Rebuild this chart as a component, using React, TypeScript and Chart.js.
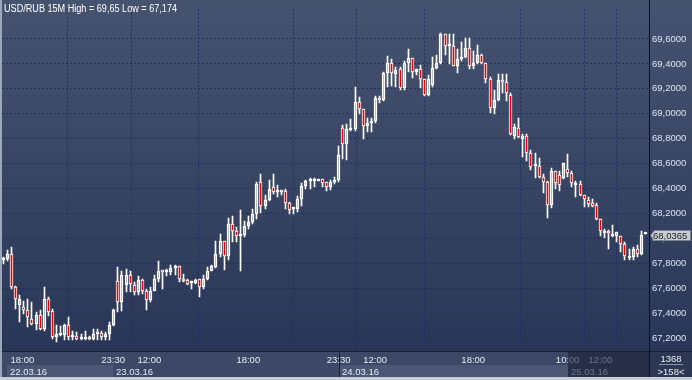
import React, { useEffect, useRef } from 'react';
import { Chart, registerables } from 'chart.js';
Chart.register(...registerables);

const opens = [
  67.83, 67.84, 67.88, 67.61, 67.47, 67.45, 67.43, 67.36, 67.315, 67.39,
  67.28, 67.52, 67.42, 67.21, 67.23, 67.23, 67.31, 67.21, 67.22, 67.195,
  67.20, 67.215, 67.195, 67.235, 67.245, 67.21, 67.235, 67.31, 67.66, 67.49,
  67.63, 67.71, 67.63, 67.57, 67.668, 67.58, 67.505, 67.58, 67.673, 67.75,
  67.73, 67.73, 67.765, 67.777, 67.68, 67.665, 67.647, 67.647, 67.673, 67.613,
  67.673, 67.744, 67.77, 67.877, 67.978, 67.863, 68.114, 68.064, 68.025, 68.03,
  68.10, 68.134, 68.194, 68.45, 68.26, 68.31, 68.41, 68.375, 68.376, 68.38,
  68.285, 68.235, 68.235, 68.317, 68.42, 68.46, 68.462, 68.46, 68.478, 68.45,
  68.41, 68.45, 68.468, 68.886, 68.761, 68.87, 68.879, 69.092, 69.035, 68.905,
  68.93, 68.94, 69.13, 69.113, 69.327, 69.405, 69.32, 69.36, 69.21, 69.41,
  69.45, 69.334, 69.355, 69.277, 69.152, 69.23, 69.368, 69.407, 69.64, 69.543,
  69.543, 69.386, 69.44, 69.457, 69.524, 69.38, 69.41, 69.47, 69.405, 69.282,
  69.048, 69.113, 69.274, 69.256, 69.152, 68.82, 68.884, 68.80, 68.826, 68.69,
  68.578, 68.58, 68.493, 68.457, 68.267, 68.545, 68.509, 68.488, 68.559, 68.525,
  68.43, 68.434, 68.35, 68.31, 68.285, 68.27, 68.155, 68.046, 68.05, 68.02,
  68.02, 68.02, 67.96, 67.848, 67.856, 67.92, 67.874, 68.0365,
];
const highs = [
  67.85, 67.91, 67.93, 67.62, 67.55, 67.50, 67.52, 67.49, 67.41, 67.43,
  67.61, 67.53, 67.44, 67.31, 67.30, 67.32, 67.37, 67.26, 67.25, 67.24,
  67.26, 67.22, 67.28, 67.28, 67.26, 67.25, 67.335, 67.44, 67.77, 67.74,
  67.76, 67.74, 67.65, 67.70, 67.68, 67.60, 67.61, 67.71, 67.82, 67.75,
  67.76, 67.79, 67.79, 67.78, 67.72, 67.68, 67.66, 67.68, 67.68, 67.71,
  67.77, 67.79, 67.985, 68.04, 67.985, 68.168, 68.18, 68.09, 68.23, 68.14,
  68.18, 68.24, 68.455, 68.515, 68.35, 68.47, 68.52, 68.43, 68.39, 68.395,
  68.29, 68.255, 68.34, 68.447, 68.47, 68.486, 68.486, 68.48, 68.48, 68.455,
  68.468, 68.49, 68.746, 68.91, 68.918, 68.957, 69.217, 69.134, 69.035, 68.97,
  68.97, 69.14, 69.14, 69.335, 69.465, 69.44, 69.373, 69.373, 69.426, 69.517,
  69.45, 69.36, 69.39, 69.282, 69.31, 69.457, 69.47, 69.65, 69.64, 69.64,
  69.64, 69.517, 69.577, 69.608, 69.608, 69.50, 69.555, 69.477, 69.405, 69.295,
  69.19, 69.32, 69.32, 69.32, 69.165, 68.92, 68.97, 68.84, 68.84, 68.71,
  68.683, 68.644, 68.514, 68.462, 68.566, 68.545, 68.54, 68.605, 68.68, 68.54,
  68.463, 68.46, 68.35, 68.33, 68.317, 68.285, 68.16, 68.077, 68.07, 68.11,
  68.05, 68.025, 67.973, 67.915, 67.934, 67.947, 68.064, 68.0365,
];
const lows = [
  67.80, 67.82, 67.60, 67.44, 67.33, 67.40, 67.29, 67.31, 67.27, 67.27,
  67.26, 67.38, 67.20, 67.174, 67.22, 67.19, 67.19, 67.19, 67.19, 67.19,
  67.19, 67.19, 67.19, 67.19, 67.19, 67.19, 67.19, 67.30, 67.41, 67.42,
  67.57, 67.57, 67.55, 67.55, 67.556, 67.43, 67.49, 67.58, 67.655, 67.595,
  67.70, 67.71, 67.71, 67.655, 67.65, 67.63, 67.60, 67.635, 67.53, 67.60,
  67.665, 67.74, 67.765, 67.856, 67.75, 67.83, 67.97, 67.97, 67.74, 68.01,
  68.08, 68.12, 68.155, 68.207, 68.24, 68.30, 68.36, 68.33, 68.35, 68.24,
  68.195, 68.195, 68.21, 68.26, 68.395, 68.40, 68.415, 68.46, 68.415, 68.38,
  68.39, 68.44, 68.455, 68.64, 68.63, 68.866, 68.866, 68.996, 68.80, 68.853,
  68.857, 68.93, 69.09, 69.10, 69.217, 69.22, 69.217, 69.19, 69.19, 69.334,
  69.29, 69.31, 69.204, 69.14, 69.14, 69.217, 69.36, 69.40, 69.47, 69.40,
  69.386, 69.327, 69.426, 69.45, 69.36, 69.36, 69.405, 69.40, 69.243, 69.01,
  68.995, 69.10, 69.17, 69.10, 68.827, 68.80, 68.805, 68.657, 68.623, 68.553,
  68.488, 68.488, 68.363, 68.163, 68.248, 68.397, 68.384, 68.475, 68.494, 68.416,
  68.33, 68.343, 68.254, 68.254, 68.254, 68.15, 68.025, 68.004, 67.92, 68.012,
  67.97, 67.895, 67.83, 67.83, 67.83, 67.856, 67.87, 68.0365,
];
const closes = [
  67.84, 67.88, 67.61, 67.52, 67.52, 67.43, 67.37, 67.315, 67.39, 67.28,
  67.52, 67.41, 67.21, 67.24, 67.245, 67.31, 67.21, 67.23, 67.20, 67.215,
  67.21, 67.195, 67.235, 67.245, 67.21, 67.235, 67.31, 67.43, 67.49, 67.71,
  67.71, 67.635, 67.57, 67.668, 67.58, 67.505, 67.58, 67.673, 67.74, 67.73,
  67.74, 67.765, 67.77, 67.68, 67.66, 67.64, 67.648, 67.665, 67.613, 67.673,
  67.744, 67.777, 67.877, 67.978, 67.863, 68.114, 68.064, 68.025, 68.03, 68.10,
  68.134, 68.194, 68.44, 68.26, 68.31, 68.40, 68.37, 68.376, 68.374, 68.285,
  68.23, 68.24, 68.317, 68.42, 68.465, 68.462, 68.468, 68.478, 68.447, 68.41,
  68.455, 68.468, 68.67, 68.761, 68.879, 68.886, 69.092, 69.035, 68.905, 68.93,
  68.94, 69.13, 69.113, 69.327, 69.405, 69.327, 69.352, 69.21, 69.405, 69.45,
  69.334, 69.355, 69.277, 69.152, 69.282, 69.368, 69.407, 69.64, 69.543, 69.556,
  69.386, 69.44, 69.457, 69.524, 69.38, 69.41, 69.47, 69.405, 69.282, 69.048,
  69.113, 69.274, 69.256, 69.165, 68.84, 68.897, 68.814, 68.82, 68.69, 68.57,
  68.58, 68.493, 68.457, 68.267, 68.545, 68.449, 68.43, 68.605, 68.525, 68.442,
  68.442, 68.35, 68.317, 68.28, 68.265, 68.155, 68.064, 68.064, 68.043, 68.021,
  68.05, 67.96, 67.864, 67.864, 67.92, 67.874, 68.03, 68.0365,
];

const timeTickIdx = [4.65, 26.85, 35.7, 59.9, 82, 90.9, 114.9, 138, 146];
const timeTickLabels = ['18:00', '23:30', '12:00', '18:00', '23:30', '12:00', '18:00', '10:00', '12:00'];
const dayStartIdx = [0.9, 26.85, 82, 138];
const dayLabels = ['22.03.16', '23.03.16', '24.03.16', '25.03.16'];
const yTicks = [67.2, 67.4, 67.6, 67.8, 68.0, 68.2, 68.4, 68.6, 68.8, 69.0, 69.2, 69.4, 69.6];
const titleText = 'USD/RUB 15M High = 69,65 Low = 67,174';
const lastPrice = 68.0365;
const barCountText = '1368';
const visibleText = '>158<';

const FONT = '"Liberation Sans", Arial, sans-serif';
const fmt = (v: number) => v.toFixed(4).replace('.', ',');

// pixel-snap the bar elements the library has laid out, so 1px wicks stay crisp
const snapPlugin = {
  id: 'snap',
  beforeDatasetsDraw(chart: any) {
    chart.getSortedVisibleDatasetMetas().forEach((meta: any) => {
      meta.data.forEach((el: any) => {
        el.x = Math.floor(el.x) + 0.5;
        const top = Math.round(Math.min(el.y, el.base));
        let bot = Math.round(Math.max(el.y, el.base));
        if (Math.abs(el.base - el.y) >= 0.5 && bot === top) bot = top + 1;
        el.y = top;
        el.base = bot;
        el.height = bot - top;
      });
    });
  },
};

const decorPlugin = {
  id: 'decor',
  beforeDraw(chart: any) {
    const { ctx, chartArea, scales } = chart;
    const W = chart.width, H = chart.height;
    const xs = scales.x;
    ctx.save();
    ctx.fillStyle = '#3c4866';
    ctx.fillRect(0, 0, W, H);
    const g = ctx.createLinearGradient(0, 0, 0, chartArea.bottom);
    g.addColorStop(0, '#46536f');
    g.addColorStop(1, '#2a3657');
    ctx.fillStyle = g;
    ctx.fillRect(0, 0, W, chartArea.bottom);
    for (let k = 0; k < dayStartIdx.length; k++) {
      const x0 = xs.getPixelForValue(dayStartIdx[k]);
      const x1 = k + 1 < dayStartIdx.length ? xs.getPixelForValue(dayStartIdx[k + 1]) : chartArea.right;
      if (k % 2 === 0) {
        ctx.fillStyle = '#4a5674';
        ctx.fillRect(Math.round(x0), 365, Math.round(x1) - Math.round(x0), 12);
      }
    }
    ctx.fillStyle = '#2d3753';
    ctx.fillRect(chartArea.right, chartArea.bottom, W - chartArea.right, H - chartArea.bottom);
    ctx.restore();
  },
  afterDraw(chart: any) {
    const { ctx, chartArea, scales } = chart;
    const W = chart.width, H = chart.height;
    const xs = scales.x, ys = scales.y;
    ctx.save();
    ctx.font = `9.5px ${FONT}`;
    ctx.fillStyle = '#e6ecf5';
    ctx.textAlign = 'center';
    ctx.textBaseline = 'alphabetic';
    timeTickIdx.forEach((v, i) => {
      ctx.fillText(timeTickLabels[i], xs.getPixelForValue(v), 363);
    });
    ctx.textAlign = 'left';
    dayStartIdx.forEach((v, i) => {
      ctx.fillText(dayLabels[i], Math.round(xs.getPixelForValue(v)) + 3, 374.5);
    });
    ctx.fillStyle = '#1c2339';
    ctx.fillRect(Math.round(xs.getPixelForValue(dayStartIdx[2])), chartArea.bottom, 1, 26);
    const xd = Math.round(xs.getPixelForValue(dayStartIdx[3]));
    ctx.fillStyle = 'rgba(24,30,52,0.6)';
    ctx.fillRect(xd, chartArea.bottom, chartArea.right - xd, 26);
    ctx.fillStyle = '#1a2036';
    ctx.fillRect(0, chartArea.bottom, W, 1);
    ctx.fillStyle = '#0c0f1c';
    ctx.fillRect(chartArea.right, 0, 1, H);
    const cx = (chartArea.right + W) / 2 + 0.5;
    ctx.fillStyle = '#e8edf5';
    ctx.textAlign = 'center';
    ctx.fillText(barCountText, cx, 361.5);
    ctx.fillText(visibleText, cx, 375);
    ctx.fillStyle = '#8a93a8';
    ctx.fillRect(cx - 12, 364, 24, 1);
    const py = Math.round(ys.getPixelForValue(lastPrice)) + 1.5;
    const tx = chartArea.right + 1;
    ctx.beginPath();
    ctx.moveTo(tx + 0.5, py);
    ctx.lineTo(tx + 4.5, py - 5);
    ctx.lineTo(690.5, py - 5);
    ctx.lineTo(690.5, py + 5);
    ctx.lineTo(tx + 4.5, py + 5);
    ctx.closePath();
    ctx.fillStyle = '#c9cdd3';
    ctx.fill();
    ctx.strokeStyle = '#7a808e';
    ctx.lineWidth = 1;
    ctx.stroke();
    ctx.fillStyle = '#1b1b1b';
    ctx.textAlign = 'left';
    ctx.textBaseline = 'middle';
    ctx.fillText(fmt(lastPrice), tx + 3, py + 0.5);
    ctx.font = `10px ${FONT}`;
    ctx.fillStyle = '#ffffff';
    ctx.textBaseline = 'alphabetic';
    const w = ctx.measureText(titleText).width;
    const target = 173;
    ctx.save();
    ctx.translate(4, 11.5);
    if (w > target) ctx.scale(target / w, 1);
    ctx.fillText(titleText, 0, 0);
    ctx.restore();
    ctx.fillStyle = '#9ea7b9';
    ctx.fillRect(0, 0, 2, H);
    ctx.fillStyle = '#c8ccd3';
    ctx.fillRect(0, H - 3, W, 3);
    ctx.restore();
  },
};

export default function App() {
  const ref = useRef<HTMLCanvasElement>(null);
  useEffect(() => {
    document.body.style.margin = '0';
    const idx = closes.map((_, i) => i);
    const upper = idx.map((i) => ({ x: i, y: [Math.max(opens[i], closes[i]), highs[i]] }));
    const lower = idx.map((i) => ({ x: i, y: [lows[i], Math.min(opens[i], closes[i])] }));
    const bodies = idx.map((i) => ({ x: i, y: [Math.min(opens[i], closes[i]), Math.max(opens[i], closes[i])] }));
    const bodyColors = idx.map((i) => (closes[i] < opens[i] ? '#f00000' : 'rgba(0,0,0,0)'));
    const chart = new Chart(ref.current as HTMLCanvasElement, {
      type: 'bar',
      data: {
        datasets: [
          { data: upper as any, backgroundColor: '#ffffff', borderWidth: 0, barThickness: 1, grouped: false, order: 3 } as any,
          { data: lower as any, backgroundColor: '#ffffff', borderWidth: 0, barThickness: 1, grouped: false, order: 2 } as any,
          {
            data: bodies as any,
            backgroundColor: bodyColors,
            borderColor: '#ffffff',
            borderWidth: 1,
            borderSkipped: false,
            barThickness: 3,
            minBarLength: 2,
            grouped: false,
            order: 1,
          } as any,
        ],
      },
      options: {
        responsive: false,
        devicePixelRatio: 1,
        animation: false,
        events: [],
        layout: { padding: { left: 2, right: 0, top: 0, bottom: 29 } },
        plugins: { legend: { display: false }, tooltip: { enabled: false } },
        scales: {
          x: {
            type: 'linear',
            min: -0.32,
            max: 157.87,
            offset: false,
            afterBuildTicks: (s: any) => {
              s.ticks = timeTickIdx.map((v) => ({ value: v }));
            },
            ticks: { display: false },
            grid: { color: '#1b3161', lineWidth: 1, drawTicks: false },
            border: { display: false, dash: [2, 2] },
          },
          y: {
            type: 'linear',
            position: 'right',
            min: 67.1,
            max: 69.842,
            afterBuildTicks: (s: any) => {
              s.ticks = yTicks.map((v) => ({ value: v }));
            },
            afterFit: (s: any) => {
              s.width = 43;
            },
            ticks: {
              color: '#dce4f1',
              font: { size: 9.5, family: FONT },
              padding: 3,
              crossAlign: 'near',
              callback: (v: any) => fmt(Number(v)),
            },
            grid: { color: '#1b3161', lineWidth: 1, drawTicks: false },
            border: { display: false, dash: [2, 2] },
          },
        },
      } as any,
      plugins: [snapPlugin, decorPlugin],
    });
    return () => chart.destroy();
  }, []);
  return (
    <div style={{ width: 692, height: 380 }}>
      <canvas ref={ref} width={692} height={380} style={{ display: 'block' }} />
    </div>
  );
}
